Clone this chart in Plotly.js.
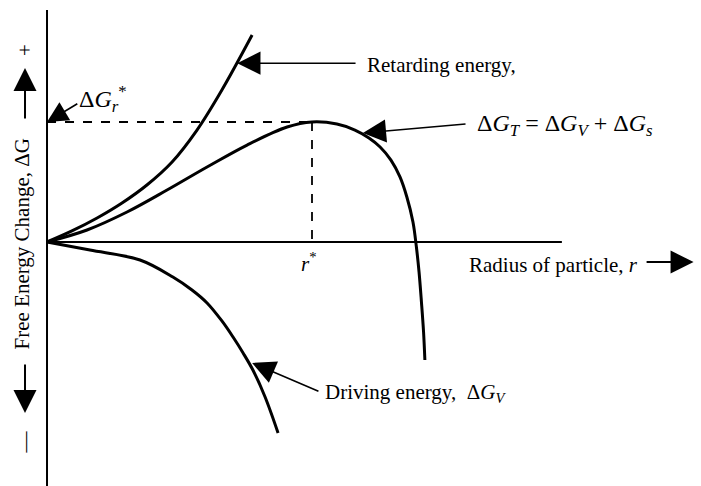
<!DOCTYPE html>
<html>
<head>
<meta charset="utf-8">
<script src="https://cdn.plot.ly/plotly-3.0.1.min.js"></script>
<style>html,body{margin:0;padding:0;background:#fff}#chart{width:701px;height:486px}</style>
</head>
<body>
<div id="chart"></div>
<script>
// Schematic of nucleation free energy: radius r in units of r*, energy in units of ΔG*
const totalR = [0, 0.151, 0.302, 0.453, 0.604, 0.755, 0.906, 1.0, 1.094, 1.162, 1.215, 1.257, 1.298, 1.332, 1.358, 1.381, 1.394, 1.404, 1.413, 1.421, 1.426];
const totalG = [0, 0.1, 0.25, 0.433, 0.625, 0.808, 0.958, 1.0, 0.983, 0.933, 0.867, 0.792, 0.683, 0.542, 0.375, 0.167, -0.042, -0.25, -0.5, -0.75, -0.983];

const surfR = [0, 0.094, 0.189, 0.283, 0.377, 0.472, 0.566, 0.660, 0.774];
const surfG = [0, 0.092, 0.2, 0.325, 0.475, 0.667, 0.933, 1.267, 1.725];

const volR = [0, 0.162, 0.351, 0.475, 0.547, 0.604, 0.660, 0.702, 0.740, 0.777, 0.823, 0.872];
const volG = [0, -0.067, -0.15, -0.292, -0.4, -0.508, -0.658, -0.792, -0.925, -1.067, -1.292, -1.592];

const rStar = 1.0;
const gStar = 1.0;

const serif = "Liberation Serif, Times New Roman, serif";
const black = "#000";

const curve = (x, y) => ({
  x, y, type: "scatter", mode: "lines",
  line: {color: black, width: 3, shape: "spline", smoothing: 1},
  hoverinfo: "skip"
});
const straight = (x, y, w, dash) => ({
  x, y, type: "scatter", mode: "lines",
  line: {color: black, width: w, dash: dash || "solid"},
  hoverinfo: "skip"
});

const traces = [
  straight([0, 0], [1.933, -2.05], 2),          // ΔG axis
  straight([0, 1.943], [0, 0], 2),              // r axis
  straight([0, rStar], [gStar, gStar], 1.8, "dash"),
  straight([rStar, rStar], [gStar, 0], 1.8, "dash"),
  curve(surfR, surfG),
  curve(totalR, totalG),
  curve(volR, volG)
];

const txt = (x, y, text, size, anchor, extra) => Object.assign({
  x, y, xref: "x", yref: "y", text, showarrow: false,
  xanchor: anchor || "left", yanchor: "middle",
  font: {family: serif, size: size, color: black}
}, extra || {});

const arrow = (tipX, tipY, tailX, tailY, w, s) => ({
  x: tipX, y: tipY, ax: tailX, ay: tailY,
  xref: "x", yref: "y", axref: "x", ayref: "y",
  text: "", showarrow: true, arrowhead: 2,
  arrowwidth: w, arrowsize: s, arrowcolor: black
});

const annotations = [
  txt(1.2, 1.475, "Retarding energy,", 21),
  arrow(0.718, 1.49, 1.17, 1.49, 1.6, 2.9),

  txt(1.615, 0.975, "Δ<i>G</i><sub><i>T</i></sub> = Δ<i>G</i><sub><i>V</i></sub> + Δ<i>G</i><sub><i>s</i></sub>", 24),
  arrow(1.192, 0.908, 1.585, 0.985, 1.6, 2.9),

  txt(0.115, 1.19, "Δ<i>G</i><sub><i>r</i></sub><sup>*</sup>", 24),
  arrow(0.0, 1.0, 0.12, 1.16, 1.6, 2.6),

  txt(1.04, -1.258, "Driving energy,  Δ<i>G</i><sub><i>V</i></sub>", 21),
  arrow(0.774, -1.008, 1.03, -1.25, 1.6, 2.9),

  txt(1.585, -0.19, "Radius of particle, <i>r</i>", 21),
  arrow(2.44, -0.167, 2.257, -0.167, 2, 2.3),

  txt(rStar - 0.01, -0.17, "<i>r</i><sup>*</sup>", 21, "center"),

  txt(-0.094, -0.02, "Free Energy Change, ΔG", 21, "center", {textangle: -90}),
  txt(-0.083, 1.6, "+", 21, "center", {textangle: -90}),
  arrow(-0.083, 1.45, -0.083, 1.017, 2, 2.3),
  arrow(-0.083, -1.425, -0.083, -1.008, 2, 2.3),
  txt(-0.083, -1.67, "—", 21, "center", {textangle: -90})
];

const layout = {
  width: 701, height: 486,
  margin: {l: 0, r: 0, t: 0, b: 0},
  paper_bgcolor: "#fff", plot_bgcolor: "#fff",
  showlegend: false,
  xaxis: {range: [-0.1774, 2.468], visible: false, fixedrange: true},
  yaxis: {range: [-2.0333, 2.0167], visible: false, fixedrange: true},
  annotations
};

Plotly.newPlot("chart", traces, layout, {displayModeBar: false, staticPlot: true});
</script>
</body>
</html>
